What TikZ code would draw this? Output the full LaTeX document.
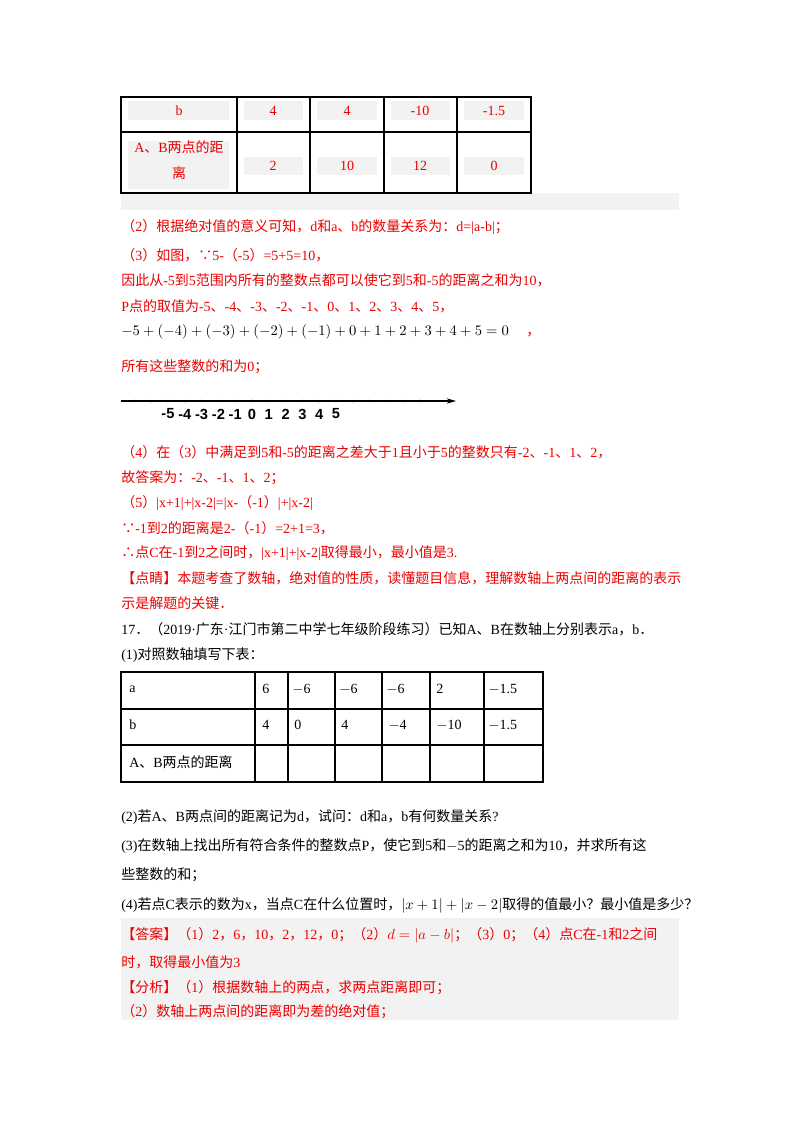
\documentclass[tikz,border=0pt]{standalone}
\usepackage{fontspec}
\usetikzlibrary{arrows.meta}
\setmainfont{Liberation Serif}
\newfontfamily\cjkf{Noto Sans CJK SC}
\newfontfamily\lsans{Liberation Sans}
\XeTeXinterchartokenstate=1
\newXeTeXintercharclass\cjkc
\newcount\cc
\cc="4E00 \loop \XeTeXcharclass\cc=\cjkc \advance\cc 1 \ifnum\cc<"A000 \repeat
\cc="3000 \loop \XeTeXcharclass\cc=\cjkc \advance\cc 1 \ifnum\cc<"3040 \repeat
\cc="FF00 \loop \XeTeXcharclass\cc=\cjkc \advance\cc 1 \ifnum\cc<"FFF0 \repeat
\XeTeXcharclass"2234=\cjkc
\XeTeXcharclass"2235=\cjkc
\XeTeXinterchartoks 0 \cjkc = {\begingroup\cjkf}
\XeTeXinterchartoks 4095 \cjkc = {\begingroup\cjkf}
\XeTeXinterchartoks \cjkc 0 = {\endgroup}
\XeTeXinterchartoks \cjkc 4095 = {\endgroup}
\definecolor{bgg}{RGB}{242,242,242}
\definecolor{rd}{RGB}{235,0,0}
\tikzset{
 t/.style={anchor=west,inner sep=0pt,font=\fontsize{10.5}{13}\selectfont},
 r/.style={t,text=rd},
 c/.style={anchor=center,inner sep=0pt,font=\fontsize{10.5}{13}\selectfont},
 rc/.style={c,text=rd},
 lbl/.style={anchor=center,inner sep=0pt,font=\lsans\bfseries\fontsize{11}{13}\selectfont},
 grid/.style={draw=black,line width=0.9pt}
}
\begin{document}
\begin{tikzpicture}[x=0.75pt,y=-0.75pt]
\useasboundingbox[fill=white] (0,0) rectangle (800,1132);
% gray bands
\fill[bgg] (121,193) rectangle (679,210);
\fill[bgg] (121,918) rectangle (679,1020);
% table 1 backgrounds
\foreach \a/\b in {128/229,244/303,317/377,391/450,464/524}{
 \fill[bgg] (\a,101) rectangle (\b,120);}
\fill[bgg] (128,141) rectangle (229,189);
\foreach \a/\b in {244/303,317/377,391/450,464/524}{
 \fill[bgg] (\a,157) rectangle (\b,175);}
\draw[grid] (121,97) rectangle (531,193);
\draw[grid] (121,132) -- (531,132);
\foreach \x in {237,310,384,457}{\draw[grid] (\x,97) -- (\x,193);}
\node[rc] (b1) at (179,111) {b};
\node[rc] (b2) at (273,111) {4};
\node[rc] (b3) at (347,111) {4};
\node[rc] (b4) at (420,111) {-10};
\node[rc] (b5) at (494,111) {-1.5};
\node[rc] (d1) at (179,147) {A、B两点的距};
\node[rc] (d1b) at (179,173) {离};
\node[rc] (d2) at (273,166) {2};
\node[rc] (d3) at (347,166) {10};
\node[rc] (d4) at (420,166) {12};
\node[rc] (d5) at (494,166) {0};
% text
\node[r] (l1) at (121,227) {（2）根据绝对值的意义可知，d和a、b的数量关系为：d=|a-b|；};
\node[r] (l2) at (121,255) {（3）如图，∵5-（-5）=5+5=10，};
\node[r] (l3) at (121,280) {因此从-5到5范围内所有的整数点都可以使它到5和-5的距离之和为10，};
\node[r] (l4) at (121,306) {P点的取值为-5、-4、-3、-2、-1、0、1、2、3、4、5，};
\node[t] (l5) at (121,332) {$-5+(-4)+(-3)+(-2)+(-1)+0+1+2+3+4+5=0$\quad\ \textcolor{rd}{，}};
\node[r] (l6) at (121,367) {所有这些整数的和为0；};
% number line
\coordinate (nl0) at (121,401);
\coordinate (nl1) at (456,401);
\draw[line width=0.8pt,-{Stealth[length=7pt,width=4pt]}] (nl0) -- (nl1);
\foreach \i in {-7,...,10}{\fill (168+16.8*\i+84,401) circle (1.3);}
\foreach \i [count=\k from 0] in {-5,-4,-3,-2,-1,0,1,2,3,4,5}{
 \node[lbl] (n\k) at (168+16.8*\k,414) {\i};}
\node[r] (l7) at (121,452) {（4）在（3）中满足到5和-5的距离之差大于1且小于5的整数只有-2、-1、1、2，};
\node[r] (l8) at (121,478) {故答案为：-2、-1、1、2；};
\node[r] (l9) at (121,503) {（5）|x+1|+|x-2|=|x-（-1）|+|x-2|};
\node[r] (l10) at (121,528) {∵-1到2的距离是2-（-1）=2+1=3，};
\node[r] (l11) at (121,553) {∴点C在-1到2之间时，|x+1|+|x-2|取得最小，最小值是3.};
\node[r] (l12) at (121,578) {【点睛】本题考查了数轴，绝对值的性质，读懂题目信息，理解数轴上两点间的距离的表示};
\node[r] (l13) at (121,603) {示是解题的关键．};
\node[t] (l14) at (121,629) {17．（2019·广东·江门市第二中学七年级阶段练习）已知A、B在数轴上分别表示a，b．};
\node[t] (l15) at (121,655) {(1)对照数轴填写下表：};
% table 2
\draw[grid] (121,672) rectangle (543,782);
\draw[grid] (121,709) -- (543,709);
\draw[grid] (121,745) -- (543,745);
\foreach \x in {255,288,335,382,430,484}{\draw[grid] (\x,672) -- (\x,782);}
\node[t] (a0) at (129,689) {a};
\node[t] (a1) at (262,689) {6};
\node[t] (a2) at (292,689) {$-$6};
\node[t] (a3) at (339,689) {$-$6};
\node[t] (a4) at (386,689) {$-$6};
\node[t] (a5) at (436,689) {2};
\node[t] (a6) at (488,689) {$-$1.5};
\node[t] (c0) at (129,725) {b};
\node[t] (c1) at (262,725) {4};
\node[t] (c2) at (294,725) {0};
\node[t] (c3) at (341,725) {4};
\node[t] (c4) at (388,725) {$-$4};
\node[t] (c5) at (436,725) {$-$10};
\node[t] (c6) at (488,725) {$-$1.5};
\node[t] (e0) at (129,762) {A、B两点的距离};
\node[t] (q2) at (121,817) {(2)若A、B两点间的距离记为d，试问：d和a，b有何数量关系?};
\node[t] (q3) at (121,846) {(3)在数轴上找出所有符合条件的整数点P，使它到5和$-$5的距离之和为10，并求所有这};
\node[t] (q3b) at (121,875) {些整数的和；};
\node[t] (q4) at (121,905) {(4)若点C表示的数为x，当点C在什么位置时，$|x+1|+|x-2|$取得的值最小？最小值是多少？};
\node[r] (ans1) at (121,935) {【答案】（1）2，6，10，2，12，0；（2）$d=|a-b|$；（3）0；（4）点C在-1和2之间};
\node[r] (ans2) at (121,962) {时，取得最小值为3};
\node[r] (an1) at (121,988) {【分析】（1）根据数轴上的两点，求两点距离即可；};
\node[r] (an2) at (121,1012) {（2）数轴上两点间的距离即为差的绝对值；};
\end{tikzpicture}
\end{document}
